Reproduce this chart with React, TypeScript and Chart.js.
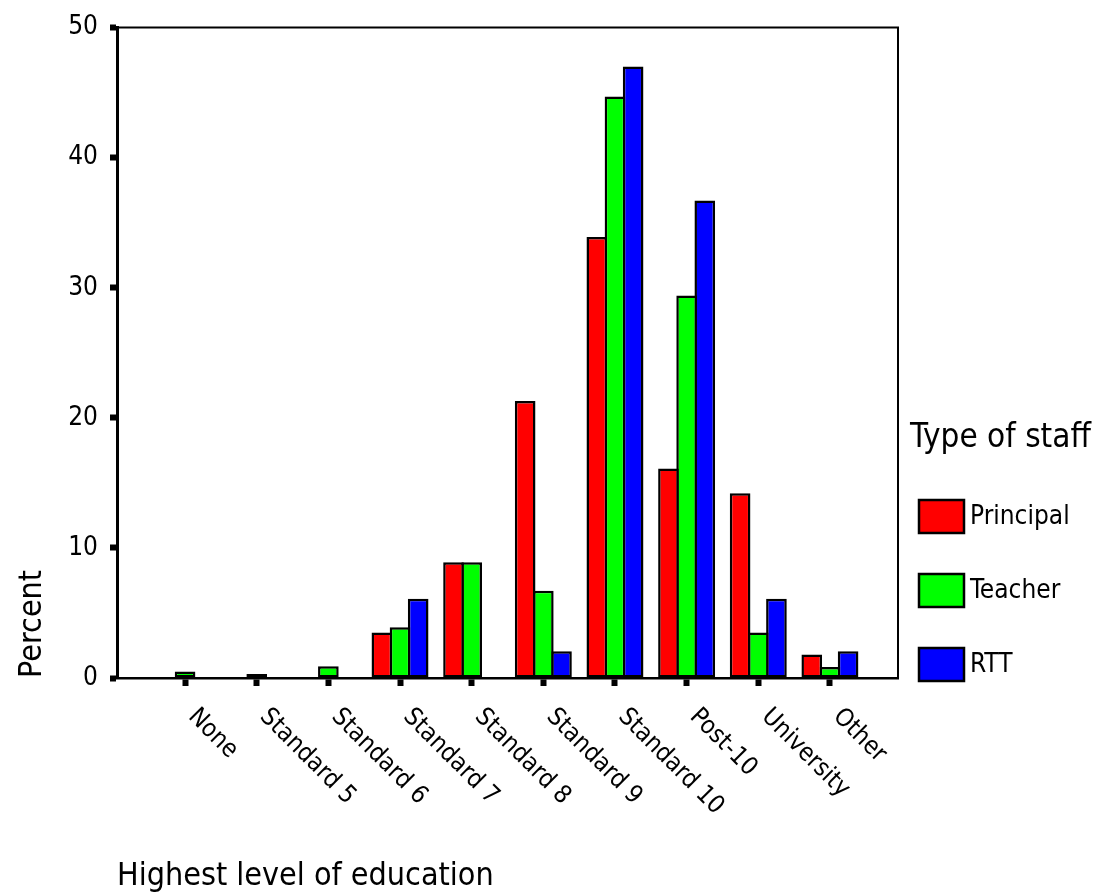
import React, { useEffect, useRef } from 'react';
import { Chart, registerables } from 'chart.js';

Chart.register(...registerables);

const FONT = "'DejaVu Sans Condensed', 'DejaVu Sans', sans-serif";

const categories = ['None', 'Standard 5', 'Standard 6', 'Standard 7', 'Standard 8', 'Standard 9', 'Standard 10', 'Post-10', 'University', 'Other'];
const principal = [null, null, null, 3.5, 8.9, 21.3, 33.9, 16.1, 14.2, 1.8];
const teacher = [0.5, 0.3, 0.9, 3.9, 8.9, 6.7, 44.7, 29.4, 3.5, 0.85];
const rtt = [null, null, null, 6.1, null, 2.05, 47.0, 36.7, 6.1, 2.05];
const yTicks = [0, 10, 20, 30, 40, 50];
const seriesNames = ['Principal', 'Teacher', 'RTT'];
const seriesColors = ['#FF0000', '#00FF00', '#0000FF'];
const legendTitle = 'Type of staff';
const xTitle = 'Highest level of education';
const yTitle = 'Percent';

const seriesValues = [principal, teacher, rtt];

const framePlugin = {
  id: 'frame',
  afterDraw(chart: any) {
    const { ctx, chartArea } = chart;
    ctx.save();
    ctx.strokeStyle = '#000';
    ctx.lineWidth = 2;
    ctx.beginPath();
    ctx.moveTo(chartArea.left - 1, chartArea.top);
    ctx.lineTo(chartArea.right, chartArea.top);
    ctx.lineTo(chartArea.right, chartArea.bottom);
    ctx.stroke();
    ctx.restore();
  },
};

const xLabelPlugin = {
  id: 'xLabels',
  afterDraw(chart: any) {
    const { ctx, chartArea } = chart;
    const xs = chart.scales.x;
    ctx.save();
    ctx.fillStyle = '#000';
    ctx.font = `25px ${FONT}`;
    ctx.textAlign = 'left';
    ctx.textBaseline = 'middle';
    categories.forEach((label, i) => {
      const px = xs.getPixelForValue(i + 1);
      ctx.save();
      ctx.translate(px + 7, chartArea.bottom + 35);
      ctx.rotate(Math.PI / 4);
      ctx.fillText(label, 0, 0);
      ctx.restore();
    });
    ctx.restore();
  },
};

const legendPlugin = {
  id: 'staffLegend',
  afterDraw(chart: any) {
    const { ctx, chartArea } = chart;
    ctx.save();
    ctx.fillStyle = '#000';
    ctx.textAlign = 'left';
    ctx.textBaseline = 'alphabetic';
    ctx.font = `33px ${FONT}`;
    ctx.fillText(legendTitle, chartArea.right + 12, 447);
    seriesNames.forEach((name, i) => {
      const top = 500 + i * 74;
      const bx = chartArea.right + 21;
      ctx.fillStyle = seriesColors[i];
      ctx.fillRect(bx, top, 45, 33);
      ctx.lineWidth = 2.5;
      ctx.strokeStyle = '#000';
      ctx.strokeRect(bx, top, 45, 33);
      ctx.fillStyle = '#000';
      ctx.font = `26px ${FONT}`;
      ctx.textBaseline = 'middle';
      ctx.fillText(name, bx + 51, top + 17);
    });
    ctx.restore();
  },
};

export default function App() {
  const ref = useRef<HTMLCanvasElement>(null);
  useEffect(() => {
    const chart = new Chart(ref.current as HTMLCanvasElement, {
      type: 'bar',
      data: {
        datasets: seriesNames.map((name, s) => ({
          label: name,
          data: seriesValues[s].map((v, i) => ({ x: i + 1, y: v })) as any,
          backgroundColor: seriesColors[s],
          borderColor: '#000',
          borderWidth: 2.5,
          borderSkipped: false,
          categoryPercentage: 0.7604,
          barPercentage: 1.1376,
        })),
      },
      options: {
        animation: false,
        responsive: true,
        maintainAspectRatio: false,
        layout: { padding: { top: 22, right: 219, left: 0, bottom: 0 } },
        plugins: {
          legend: { display: false },
          tooltip: { enabled: false },
        },
        scales: {
          x: {
            type: 'linear',
            offset: false,
            min: 0.05,
            max: 10.95,
            afterBuildTicks: (s: any) => {
              s.ticks = categories.map((_, i) => ({ value: i + 1 }));
            },
            afterFit: (s: any) => {
              s.height = 218;
            },
            ticks: { display: false },
            grid: {
              offset: false,
              drawOnChartArea: false,
              drawTicks: true,
              tickLength: 8,
              tickWidth: 6,
              tickColor: '#000',
            },
            border: { display: true, color: '#000', width: 2.5 },
            title: {
              display: true,
              text: xTitle,
              align: 'start',
              color: '#000',
              font: { family: FONT, size: 32 },
              padding: 0,
            },
          },
          y: {
            type: 'linear',
            min: 0,
            max: 50,
            afterBuildTicks: (s: any) => {
              s.ticks = yTicks.map((v) => ({ value: v }));
            },
            afterFit: (s: any) => {
              s.width = 117;
            },
            ticks: {
              color: '#000',
              font: { family: FONT, size: 26 },
              padding: 12,
            },
            grid: {
              drawOnChartArea: false,
              drawTicks: true,
              tickLength: 7,
              tickWidth: 6,
              tickColor: '#000',
            },
            border: { display: true, color: '#000', width: 3 },
            title: {
              display: true,
              text: yTitle,
              align: 'start',
              color: '#000',
              font: { family: FONT, size: 32 },
              padding: { top: 13, bottom: 0 },
            },
          },
        },
      },
      plugins: [framePlugin, xLabelPlugin, legendPlugin],
    });
    return () => chart.destroy();
  }, []);
  return (
    <div style={{ position: 'fixed', left: 0, top: 0, width: '1117px', height: '896px', background: '#fff' }}>
      <canvas ref={ref} />
    </div>
  );
}
